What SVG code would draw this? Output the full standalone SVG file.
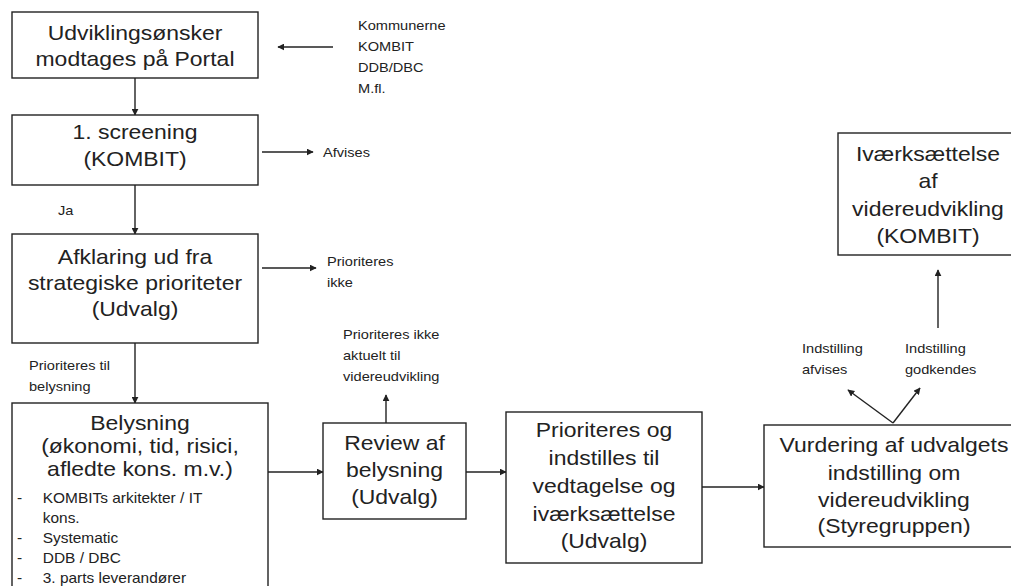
<svg xmlns="http://www.w3.org/2000/svg" width="1011" height="586" viewBox="0 0 1011 586">
<style>
.box{fill:#fff;stroke:#222;stroke-width:1.4}
.big{font-family:"Liberation Sans",Arial,sans-serif;font-size:20.5px;fill:#222;text-anchor:middle}
.sm{font-family:"Liberation Sans",Arial,sans-serif;font-size:13.5px;fill:#222}
.bul{font-family:"Liberation Sans",Arial,sans-serif;font-size:13.8px;fill:#222}
.con{stroke:#222;stroke-width:1.4;fill:none;marker-end:url(#ah)}
</style>
<defs>
<marker id="ah" viewBox="0 0 10 10" refX="9" refY="5" markerWidth="7" markerHeight="7" markerUnits="userSpaceOnUse" orient="auto">
<path d="M0,0 L10,5 L0,10 z" fill="#222"/>
</marker>
</defs>
<rect width="1011" height="586" fill="#fff"/>
<g id="connectors">
<line class="con" x1="333" y1="47" x2="278" y2="47"/>
<line class="con" x1="135" y1="78" x2="135" y2="115"/>
<line class="con" x1="262" y1="152" x2="313" y2="152"/>
<line class="con" x1="135" y1="185" x2="135" y2="234"/>
<line class="con" x1="262" y1="268" x2="316" y2="268"/>
<line class="con" x1="135" y1="343" x2="135" y2="403"/>
<line class="con" x1="268" y1="472" x2="323" y2="472"/>
<line class="con" x1="386" y1="423" x2="386" y2="395"/>
<line class="con" x1="466" y1="472" x2="506" y2="472"/>
<line class="con" x1="702" y1="487" x2="764" y2="487"/>
<line class="con" x1="893" y1="423" x2="848" y2="390"/>
<line class="con" x1="893" y1="423" x2="920" y2="388"/>
<line class="con" x1="938" y1="328" x2="938" y2="270"/>
</g>
<g id="n1">
<rect class="box" x="12" y="12" width="246" height="66"/>
<g transform="translate(135 0) scale(1.12 1)" class="big"><text x="0" y="40">Udviklingsønsker</text><text x="0" y="66">modtages på Portal</text></g>
</g>
<g id="n2">
<rect class="box" x="12" y="115" width="246" height="70"/>
<g transform="translate(135 0) scale(1.12 1)" class="big"><text x="0" y="139">1. screening</text><text x="0" y="166">(KOMBIT)</text></g>
</g>
<g id="n3">
<rect class="box" x="12" y="234" width="246" height="109"/>
<g transform="translate(135 0) scale(1.12 1)" class="big"><text x="0" y="264">Afklaring ud fra</text><text x="0" y="290">strategiske prioriteter</text><text x="0" y="316">(Udvalg)</text></g>
</g>
<g id="n4">
<rect class="box" x="12" y="403" width="256" height="200"/>
<g transform="translate(140 0) scale(1.12 1)" class="big"><text x="0" y="430">Belysning</text><text x="0" y="453">(økonomi, tid, risici,</text><text x="0" y="476">afledte kons. m.v.)</text></g>
<g transform="translate(17 0) scale(1.12 1)" class="bul">
<text x="0" y="503">-</text><text x="23" y="503">KOMBITs arkitekter / IT</text>
<text x="23" y="523">kons.</text>
<text x="0" y="543">-</text><text x="23" y="543">Systematic</text>
<text x="0" y="563">-</text><text x="23" y="563">DDB / DBC</text>
<text x="0" y="583">-</text><text x="23" y="583">3. parts leverandører</text>
</g>
</g>
<g id="n5">
<rect class="box" x="323" y="423" width="143" height="96"/>
<g transform="translate(394.5 0) scale(1.12 1)" class="big"><text x="0" y="450">Review af</text><text x="0" y="477">belysning</text><text x="0" y="504">(Udvalg)</text></g>
</g>
<g id="n6">
<rect class="box" x="506" y="412" width="196" height="151"/>
<g transform="translate(604 0) scale(1.12 1)" class="big"><text x="0" y="437">Prioriteres og</text><text x="0" y="465">indstilles til</text><text x="0" y="493">vedtagelse og</text><text x="0" y="521">iværksættelse</text><text x="0" y="548">(Udvalg)</text></g>
</g>
<g id="n7">
<rect class="box" x="764" y="425" width="270" height="122"/>
<g transform="translate(894 0) scale(1.12 1)" class="big"><text x="0" y="452">Vurdering af udvalgets</text><text x="0" y="480">indstilling om</text><text x="0" y="507">videreudvikling</text><text x="0" y="533">(Styregruppen)</text></g>
</g>
<g id="n8">
<rect class="box" x="838" y="133" width="180" height="122"/>
<g transform="translate(928 0) scale(1.12 1)" class="big"><text x="0" y="161">Iværksættelse</text><text x="0" y="188">af</text><text x="0" y="216">videreudvikling</text><text x="0" y="243">(KOMBIT)</text></g>
</g>
<g id="labels" class="sm">
<g transform="translate(358 0) scale(1.08 1)"><text x="0" y="30">Kommunerne</text><text x="0" y="51">KOMBIT</text><text x="0" y="72">DDB/DBC</text><text x="0" y="93">M.fl.</text></g>
<g transform="translate(323 0) scale(1.08 1)"><text x="0" y="157">Afvises</text></g>
<g transform="translate(58 0) scale(1.08 1)"><text x="0" y="215">Ja</text></g>
<g transform="translate(327 0) scale(1.08 1)"><text x="0" y="266">Prioriteres</text><text x="0" y="287">ikke</text></g>
<g transform="translate(29 0) scale(1.08 1)"><text x="0" y="370">Prioriteres til</text><text x="0" y="391">belysning</text></g>
<g transform="translate(343 0) scale(1.08 1)"><text x="0" y="339">Prioriteres ikke</text><text x="0" y="360">aktuelt til</text><text x="0" y="381">videreudvikling</text></g>
<g transform="translate(802 0) scale(1.08 1)"><text x="0" y="353">Indstilling</text><text x="0" y="374">afvises</text></g>
<g transform="translate(905 0) scale(1.08 1)"><text x="0" y="353">Indstilling</text><text x="0" y="374">godkendes</text></g>
</g>
</svg>
